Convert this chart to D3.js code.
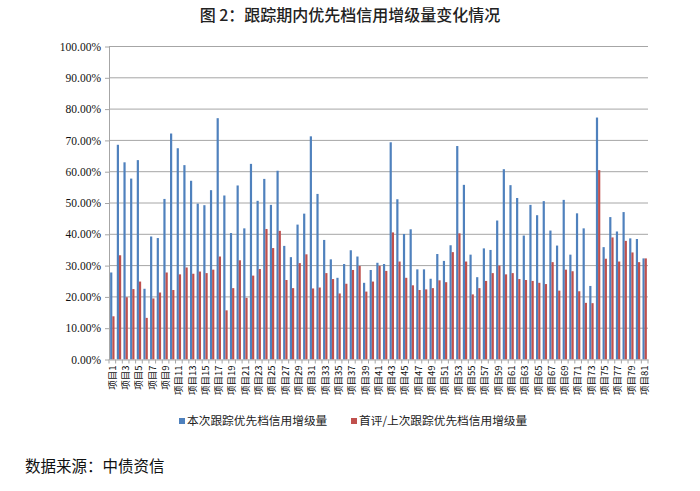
<!DOCTYPE html>
<html><head><meta charset="utf-8">
<script src="https://cdn.jsdelivr.net/npm/d3@7/dist/d3.min.js"></script>
<style>
body{margin:0;background:#fff;}
svg{display:block;}
</style></head>
<body>
<svg id="chart" width="700" height="491"></svg>
<script>
const categories = d3.range(1, 82).map(i => "项目" + i);
const seriesNames = ["本次跟踪优先档信用增级量", "首评/上次跟踪优先档信用增级量"];
const currentValues = [27.8,68.6,63.0,57.8,63.7,22.6,39.3,38.8,51.3,72.2,
67.5,62.1,57.1,49.8,49.3,54.1,77.1,52.4,40.4,55.6,
41.9,62.5,50.7,57.7,49.4,60.3,36.3,32.7,43.1,46.6,
71.3,52.9,38.2,32.0,26.1,30.5,34.9,32.9,24.5,28.6,
30.9,30.5,69.4,51.2,40.1,41.6,28.8,28.8,25.8,33.7,
31.5,36.5,68.2,55.8,33.5,26.3,35.5,35.0,44.4,60.8,
55.7,51.6,39.6,49.4,46.1,50.6,41.2,36.4,51.0,33.5,
46.7,41.9,23.5,77.3,35.9,45.5,40.9,47.1,38.7,38.5,32.3];
const previousValues = [13.8,33.3,19.9,22.5,24.9,13.3,19.5,21.4,27.8,22.2,
27.2,29.4,27.4,28.1,27.6,28.7,32.9,15.7,22.8,31.7,
19.7,26.8,28.9,41.7,35.6,41.1,25.4,22.8,30.8,33.6,
22.7,23.0,27.6,25.7,21.1,24.2,28.6,29.9,21.7,24.9,
29.9,28.3,40.6,31.3,26.1,23.7,22.2,22.4,22.8,25.3,
24.7,34.3,40.3,31.3,20.8,22.8,25.1,27.6,30.0,27.2,
27.6,25.7,25.4,25.1,24.5,24.1,31.1,22.0,28.7,28.2,
21.8,18.1,18.0,60.5,32.2,39.0,31.3,37.9,34.2,31.1,32.3];
const yTicks = d3.range(0, 101, 10);
const xTickLabels = categories.filter((c, i) => i % 2 === 0);
const colors = ["#4F81BD", "#C0504D"];

const svg = d3.select("#chart");
const L = 109, R = 648, T = 46.5, B = 359.5;
const cjk = "'Noto Sans CJK SC', sans-serif";
const serif = "'Liberation Serif', 'Times New Roman', serif";

const x = d3.scaleBand().domain(categories).range([L, R]).paddingInner(0.34).paddingOuter(0.17);
const x1 = d3.scaleBand().domain([0, 1]).range([0, x.bandwidth()]);
const y = d3.scaleLinear().domain([0, 100]).range([B, T]);

// title
svg.append("text").attr("x", 350).attr("y", 21).attr("text-anchor", "middle")
  .attr("font-family", cjk).attr("font-size", 16).attr("font-weight", 500).attr("fill", "#222")
  .text("图 2：跟踪期内优先档信用增级量变化情况");

// gridlines
svg.append("g").selectAll("line").data(yTicks.slice(1)).join("line")
  .attr("x1", L).attr("x2", R).attr("y1", d => y(d)).attr("y2", d => y(d))
  .attr("stroke", "#a6a6a6").attr("stroke-width", 1);

// y axis
const yAxis = svg.append("g").attr("transform", `translate(${L},0)`)
  .call(d3.axisLeft(y).tickValues(yTicks).tickFormat(d => d.toFixed(2) + "%").tickSize(4).tickSizeOuter(0));
yAxis.select(".domain").attr("stroke", "#a6a6a6");
yAxis.selectAll(".tick line").attr("stroke", "#a6a6a6");
yAxis.selectAll(".tick text").attr("font-family", serif).attr("font-size", 11.5).attr("fill", "#111").attr("x", -8);

// bars
const series = [currentValues, previousValues];
const g = svg.append("g");
series.forEach((vals, si) => {
  g.append("g").selectAll("rect").data(vals).join("rect")
    .attr("x", (d, i) => x(categories[i]) + x1(si))
    .attr("width", x1.bandwidth())
    .attr("y", d => y(d))
    .attr("height", d => y(0) - y(d))
    .attr("fill", colors[si]);
});

// x axis
const xAxis = svg.append("g").attr("transform", `translate(0,${B})`)
  .call(d3.axisBottom(x).tickValues(xTickLabels).tickSize(0).tickSizeOuter(0));
xAxis.select(".domain").attr("stroke", "#a6a6a6");
xAxis.selectAll(".tick text")
  .attr("font-family", cjk).attr("font-size", 9.5).attr("fill", "#111")
  .attr("text-anchor", "end").attr("transform", "rotate(-90)")
  .attr("x", -6).attr("y", 0).attr("dy", "0.35em");
// category boundary ticks
const bounds = categories.map(c => x(c) - (x.step() - x.bandwidth()) / 2).concat([R]);
svg.append("g").selectAll("line").data(bounds).join("line")
  .attr("x1", d => d).attr("x2", d => d).attr("y1", B).attr("y2", B + 4)
  .attr("stroke", "#a6a6a6");

// legend
const legendItems = [{x: 179, name: seriesNames[0], c: colors[0]}, {x: 351, name: seriesNames[1], c: colors[1]}];
const lg = svg.append("g").selectAll("g").data(legendItems).join("g")
  .attr("transform", d => `translate(${d.x},421)`);
lg.append("rect").attr("x", 0).attr("y", -3).attr("width", 6).attr("height", 6).attr("fill", d => d.c);
lg.append("text").attr("x", 8).attr("y", 0).attr("dy", "0.35em")
  .attr("font-family", cjk).attr("font-size", 11.7).attr("fill", "#222").text(d => d.name);

// source
svg.append("text").attr("x", 25).attr("y", 472)
  .attr("font-family", cjk).attr("font-size", 15.5).attr("fill", "#111")
  .text("数据来源：中债资信");
</script>
</body></html>
